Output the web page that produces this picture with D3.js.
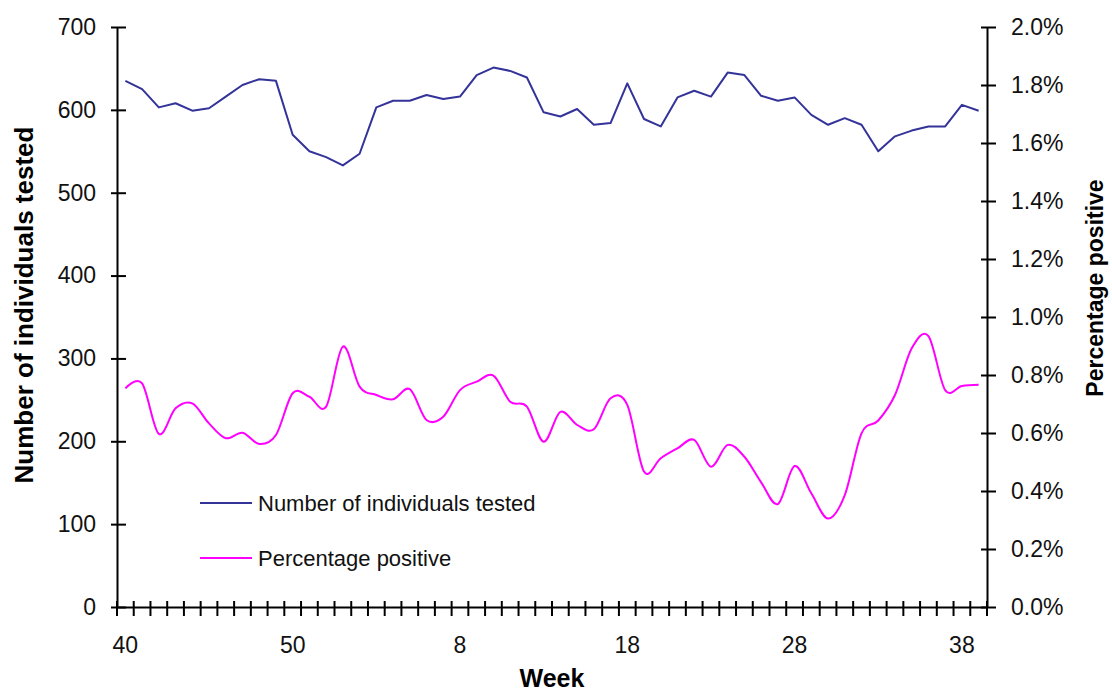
<!DOCTYPE html>
<html>
<head>
<meta charset="utf-8">
<script src="https://cdn.jsdelivr.net/npm/d3@7"></script>
<style>
  body { margin: 0; background: #fff; }
  svg { display: block; font-family: "Liberation Sans", Arial, sans-serif; }
</style>
</head>
<body>
<svg id="chart"></svg>
<script>
// weeks, from week 40 of one season through week 39 of the next
const weeks = [40, 41, 42, 43, 44, 45, 46, 47, 48, 49, 50, 51, 52,
  1, 2, 3, 4, 5, 6, 7, 8, 9, 10, 11, 12, 13, 14, 15, 16, 17, 18, 19, 20,
  21, 22, 23, 24, 25, 26, 27, 28, 29, 30, 31, 32, 33, 34, 35, 36, 37, 38, 39];

// number of individuals tested per week (left axis)
const tested = [635, 625, 603, 608, 599, 602, 616, 630, 637, 635,
  570, 550, 543, 533, 547, 603, 611, 611, 618, 613,
  616, 642, 651, 647, 639, 597, 592, 601, 582, 584,
  632, 589, 580, 615, 623, 616, 645, 642, 617, 611,
  615, 594, 582, 590, 582, 550, 568, 575, 580, 580,
  606, 599];

// percentage positive per week, as a fraction (right axis)
const pctPositive = [0.00754, 0.00771, 0.00597, 0.00685, 0.00702, 0.00633, 0.00582, 0.00601, 0.00562, 0.00593,
  0.00737, 0.00725, 0.00691, 0.00898, 0.00760, 0.00731, 0.00716, 0.00751, 0.00645, 0.00656,
  0.00748, 0.00777, 0.00798, 0.00708, 0.00691, 0.00570, 0.00673, 0.00628, 0.00613, 0.00720,
  0.00697, 0.00467, 0.00513, 0.00547, 0.00576, 0.00484, 0.00559, 0.00518, 0.00430, 0.00355,
  0.00486, 0.00392, 0.00305, 0.00386, 0.00599, 0.00643, 0.00731, 0.00892, 0.00934, 0.00748,
  0.00762, 0.00766];

const leftTicks = [0, 100, 200, 300, 400, 500, 600, 700];
const rightTicks = [0, 0.002, 0.004, 0.006, 0.008, 0.010, 0.012, 0.014, 0.016, 0.018, 0.020];
const labelEvery = 10;

const seriesNames = ["Number of individuals tested", "Percentage positive"];
const seriesColors = ["#333399", "#ff00ff"];

const width = 1112, height = 691;
const plot = { left: 117, right: 987, top: 27, bottom: 607 };

const svg = d3.select("#chart")
  .attr("width", width)
  .attr("height", height);

svg.append("rect")
  .attr("width", width)
  .attr("height", height)
  .attr("fill", "#fff");

const idx = d3.range(weeks.length);

const x = d3.scaleBand()
  .domain(idx)
  .range([plot.left, plot.right])
  .padding(0);

const yLeft = d3.scaleLinear()
  .domain([0, 700])
  .range([plot.bottom, plot.top]);

const yRight = d3.scaleLinear()
  .domain([0, 0.02])
  .range([plot.bottom, plot.top]);

const cx = i => x(i) + x.bandwidth() / 2;

// lines
const lineTested = d3.line()
  .x((d, i) => cx(i))
  .y(d => yLeft(d));

const linePct = d3.line()
  .x((d, i) => cx(i))
  .y(d => yRight(d))
  .curve(d3.curveCardinal.tension(0));  // Excel-style smoothed line

svg.append("path")
  .datum(tested)
  .attr("d", lineTested)
  .attr("fill", "none")
  .attr("stroke", seriesColors[0])
  .attr("stroke-width", 2)
  .attr("stroke-linejoin", "round");

svg.append("path")
  .datum(pctPositive)
  .attr("d", linePct)
  .attr("fill", "none")
  .attr("stroke", seriesColors[1])
  .attr("stroke-width", 2);

// left axis
const gLeft = svg.append("g")
  .attr("transform", `translate(${plot.left},0)`)
  .call(d3.axisLeft(yLeft).tickValues(leftTicks).tickSizeOuter(0).tickFormat(d3.format("d")));
gLeft.select(".domain").attr("stroke", "#000").attr("stroke-width", 2);
gLeft.selectAll(".tick line").attr("x1", -6).attr("x2", 9).attr("stroke", "#000").attr("stroke-width", 2);
gLeft.selectAll(".tick text")
  .attr("x", -21)
  .attr("font-size", 23)
  .attr("font-family", null)
  .attr("fill", "#111");

// right axis
const gRight = svg.append("g")
  .attr("transform", `translate(${plot.right},0)`)
  .call(d3.axisRight(yRight).tickValues(rightTicks).tickSizeOuter(0).tickFormat(d3.format(".1%")));
gRight.select(".domain").attr("stroke", "#000").attr("stroke-width", 2);
gRight.selectAll(".tick line").attr("x1", -6).attr("x2", 9).attr("stroke", "#000").attr("stroke-width", 2);
gRight.selectAll(".tick text")
  .attr("x", 24)
  .attr("font-size", 23)
  .attr("font-family", null)
  .attr("fill", "#111");

// bottom axis: labels every 10th week
const gBottom = svg.append("g")
  .attr("transform", `translate(0,${plot.bottom})`)
  .call(d3.axisBottom(x)
    .tickValues(idx.filter(i => i % labelEvery === 0))
    .tickFormat(i => weeks[i])
    .tickSize(0));
gBottom.select(".domain").attr("stroke", "#000").attr("stroke-width", 2);
gBottom.selectAll(".tick text")
  .attr("y", 46)
  .attr("dy", null)
  .attr("font-size", 23)
  .attr("font-family", null)
  .attr("fill", "#111");

// crossing tick marks on category boundaries
svg.append("g")
  .selectAll("line")
  .data(d3.range(weeks.length + 1))
  .join("line")
  .attr("x1", k => plot.left + k * x.step())
  .attr("x2", k => plot.left + k * x.step())
  .attr("y1", plot.bottom - 6)
  .attr("y2", plot.bottom + 9)
  .attr("stroke", "#000")
  .attr("stroke-width", 2);

// axis titles
svg.append("text")
  .attr("transform", `translate(33,${(plot.top + plot.bottom) / 2 - 12}) rotate(-90)`)
  .attr("text-anchor", "middle")
  .attr("font-size", 26)
  .attr("font-weight", "bold")
  .text("Number of individuals tested");

svg.append("text")
  .attr("transform", `translate(1103,288) rotate(-90)`)
  .attr("text-anchor", "middle")
  .attr("font-size", 23)
  .attr("font-weight", "bold")
  .text("Percentage positive");

svg.append("text")
  .attr("x", (plot.left + plot.right) / 2)
  .attr("y", 687)
  .attr("text-anchor", "middle")
  .attr("font-size", 25)
  .attr("font-weight", "bold")
  .text("Week");

// legend
const legend = svg.append("g")
  .selectAll("g")
  .data(seriesNames)
  .join("g")
  .attr("transform", (d, i) => `translate(200,${503 + i * 55})`);

legend.append("line")
  .attr("x1", 0)
  .attr("x2", 52)
  .attr("stroke", (d, i) => seriesColors[i])
  .attr("stroke-width", 2);

legend.append("text")
  .attr("x", 58)
  .attr("y", 8)
  .attr("font-size", 22)
  .attr("fill", "#111")
  .text(d => d);
</script>
</body>
</html>
